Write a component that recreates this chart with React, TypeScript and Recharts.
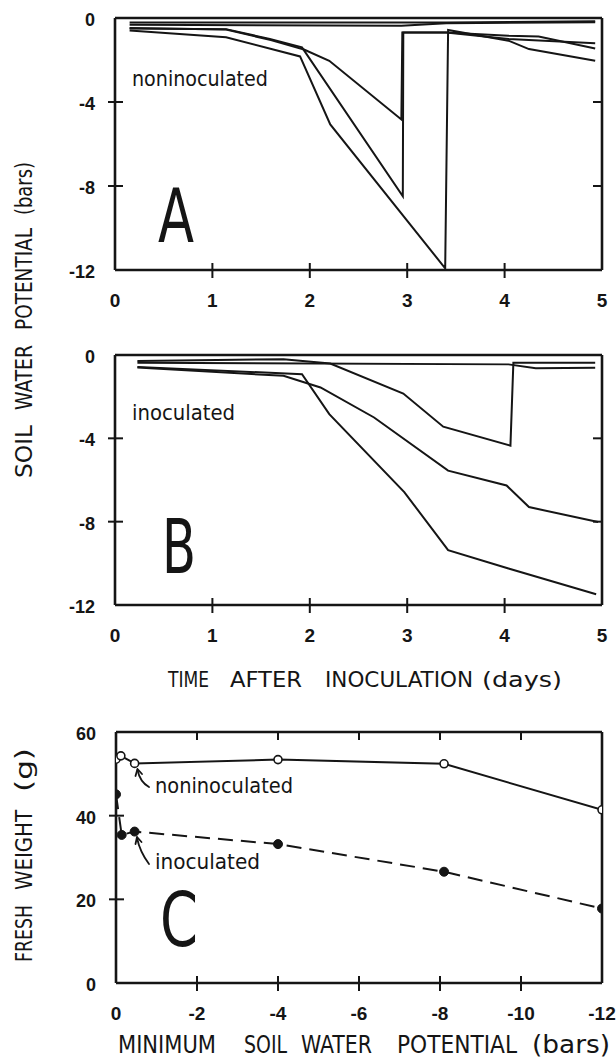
import React from "react";
import { LineChart, Line, XAxis, YAxis, ReferenceLine } from "recharts";

const INK = "#151515";
const SANS = "'Liberation Sans', Arial, sans-serif";
const NARROW = "'DejaVu Sans Condensed', 'Liberation Sans Narrow', 'Liberation Sans', sans-serif";

// tick labels
const DAY_TICKS = [0, 1, 2, 3, 4, 5];
const BAR_TICKS = [0, -4, -8, -12];
const POT_TICKS = [0, -2, -4, -6, -8, -10, -12];
const WEIGHT_TICKS = [0, 20, 40, 60];

// panel A, noninoculated plants: [day, bars]
const nonA1 = [[0.15, -0.6], [1.14, -0.92], [1.9, -1.83], [2.21, -5.07], [3.39, -11.92], [3.42, -0.57], [4.04, -1.08], [4.25, -1.48], [4.93, -2.04]];
const nonA2 = [[0.15, -0.5], [1.14, -0.53], [1.59, -1.0], [1.92, -1.4], [2.955, -8.49], [2.96, -0.69], [3.4, -0.69], [4.04, -0.84], [4.35, -0.88], [4.93, -1.45]];
const nonA3 = [[0.15, -0.48], [1.14, -0.55], [1.6, -1.05], [1.94, -1.5], [2.2, -2.04], [2.94, -4.83], [2.95, -0.69], [3.4, -0.69], [4.04, -1.0], [4.93, -1.2]];
const nonA4 = [[0.15, -0.22], [3.4, -0.22], [4.93, -0.16]];
const nonA5 = [[0.15, -0.32], [2.94, -0.37], [3.4, -0.25], [4.93, -0.2]];

// panel B, inoculated plants: [day, bars]
const inoB1 = [[0.23, -0.29], [1.73, -0.2], [2.21, -0.41], [2.96, -1.85], [3.37, -3.44], [4.06, -4.35], [4.09, -0.37], [4.93, -0.37]];
const inoB2 = [[0.23, -0.37], [4.04, -0.45], [4.32, -0.64], [4.93, -0.61]];
const inoB3 = [[0.23, -0.57], [1.92, -0.92], [2.2, -2.84], [2.97, -6.58], [3.42, -9.37], [4.04, -10.25], [4.94, -11.48]];
const inoB4 = [[0.23, -0.6], [1.73, -1.0], [2.11, -1.56], [2.66, -3.0], [3.42, -5.55], [4.02, -6.26], [4.25, -7.3], [4.96, -8.02]];

// panel C: minimum soil water potential (bars) vs fresh weight (g)
const NONINOC_POT = [0, -0.12, -0.46, -4, -8.1, -12];
const NONINOC_WT = [53.5, 54.3, 52.5, 53.4, 52.4, 41.4];
const INOC_POT = [0, -0.14, -0.46, -4, -8.1, -12];
const INOC_WT = [45.1, 35.4, 36.2, 33.2, 26.6, 17.8];

const toRows = (pts: number[][]) => pts.map(([d, v]) => ({ d, v }));
const zipRows = (xs: number[], ys: number[]) => xs.map((x, i) => ({ x, g: ys[i] }));

const W = 616;
const fmt = (v: number) => (v === 0 ? "0" : String(v));

function YTick(props: any) {
  const { x, y, payload, inner, rightX } = props;
  const v = payload.value;
  const mid = inner.includes(v);
  return (
    <g>
      {mid && <line x1={x - 7} x2={x + 8} y1={y} y2={y} stroke={INK} strokeWidth={2} />}
      {mid && rightX && <line x1={rightX - 9} x2={rightX} y1={y} y2={y} stroke={INK} strokeWidth={2} />}
      <text x={x - 20} y={y + 8} textAnchor="end" fontFamily={SANS} fontWeight={700} fontSize={18} fill={INK}>
        {fmt(v)}
      </text>
    </g>
  );
}

function XTick(props: any) {
  const { x, y, payload, inner, topY } = props;
  const v = payload.value;
  const mid = inner.includes(v);
  return (
    <g>
      {mid && <line x1={x} x2={x} y1={y - 7} y2={y + 8} stroke={INK} strokeWidth={2} />}
      {mid && topY != null && <line x1={x} x2={x} y1={topY} y2={topY + 8} stroke={INK} strokeWidth={2} />}
      <text x={x} y={y + 37} textAnchor="middle" fontFamily={SANS} fontWeight={700} fontSize={19} fill={INK}>
        {fmt(v)}
      </text>
    </g>
  );
}

// frame drawn through the chart's own scales
function frame(x0: number, x1: number, y0: number, y1: number) {
  const common = { stroke: INK, strokeWidth: 2.6, ifOverflow: "extendDomain" as const };
  return [
    <ReferenceLine key="fl" x={x0} {...common} />,
    <ReferenceLine key="fr" x={x1} {...common} />,
    <ReferenceLine key="fb" y={y0} {...common} />,
    <ReferenceLine key="ft" y={y1} {...common} />,
  ];
}

function SoilPanel({ lines, top, height, margin }: { lines: number[][][]; top: number; height: number; margin: any }) {
  return (
    <div style={{ position: "absolute", left: 0, top }}>
      <LineChart width={W} height={height} margin={margin}>
        <XAxis
          type="number"
          dataKey="d"
          domain={[0, 5]}
          ticks={DAY_TICKS}
          interval={0}
          allowDataOverflow
          height={40}
          tickSize={0}
          tickMargin={0}
          tickLine={false}
          axisLine={false}
          tick={<XTick inner={[1, 2, 3, 4]} />}
        />
        <YAxis
          type="number"
          domain={[-12, 0]}
          ticks={BAR_TICKS}
          interval={0}
          allowDataOverflow
          width={40}
          tickSize={0}
          tickMargin={0}
          tickLine={false}
          axisLine={false}
          tick={<YTick inner={[-4, -8]} rightX={W - margin.right} />}
        />
        {frame(0, 5, -12, 0)}
        {lines.map((pts, i) => (
          <Line
            key={i}
            data={toRows(pts)}
            dataKey="v"
            type="linear"
            stroke={INK}
            strokeWidth={2}
            dot={false}
            isAnimationActive={false}
          />
        ))}
      </LineChart>
    </div>
  );
}

function WeightPanel() {
  const margin = { top: 32, right: 14, left: 76, bottom: 40 };
  return (
    <div style={{ position: "absolute", left: 0, top: 700 }}>
      <LineChart width={W} height={363} margin={margin}>
        <XAxis
          type="number"
          dataKey="x"
          domain={[-12, 0]}
          reversed
          ticks={POT_TICKS}
          interval={0}
          allowDataOverflow
          height={40}
          tickSize={0}
          tickMargin={0}
          tickLine={false}
          axisLine={false}
          tick={<XTick inner={[-2, -4, -6, -8, -10]} topY={margin.top} />}
        />
        <YAxis
          type="number"
          domain={[0, 60]}
          ticks={WEIGHT_TICKS}
          interval={0}
          allowDataOverflow
          width={40}
          tickSize={0}
          tickMargin={0}
          tickLine={false}
          axisLine={false}
          tick={<YTick inner={[20, 40]} />}
        />
        {frame(0, -12, 0, 60)}
        <Line
          data={zipRows(INOC_POT, INOC_WT)}
          dataKey="g"
          type="linear"
          stroke={INK}
          strokeWidth={2}
          strokeDasharray="15 8"
          dot={{ r: 4.5, fill: INK, stroke: INK, strokeWidth: 1, strokeDasharray: "0" }}
          isAnimationActive={false}
        />
        <Line
          data={zipRows(NONINOC_POT, NONINOC_WT)}
          dataKey="g"
          type="linear"
          stroke={INK}
          strokeWidth={2}
          dot={{ r: 4, fill: "#fff", stroke: INK, strokeWidth: 1.6 }}
          isAnimationActive={false}
        />
      </LineChart>
    </div>
  );
}

function Word({ t, x0, x1, y, size }: { t: string; x0: number; x1: number; y: number; size: number }) {
  return (
    <text x={x0} y={y} fontSize={size} textLength={x1 - x0} lengthAdjust="spacingAndGlyphs" fontFamily={NARROW} fill={INK}>
      {t}
    </text>
  );
}

function Overlay() {
  return (
    <svg width={W} height={1063} style={{ position: "absolute", left: 0, top: 0, pointerEvents: "none" }}>
      {/* panel letters and labels */}
      <Word t="noninoculated" x0={132} x1={268} y={86} size={22} />
      <Word t="A" x0={158} x1={194} y={242} size={75} />
      <Word t="inoculated" x0={132} x1={235} y={420} size={22} />
      <Word t="B" x0={162} x1={196} y={573} size={75} />
      <Word t="C" x0={160} x1={198} y={946} size={75} />
      <Word t="noninoculated" x0={155} x1={293} y={793} size={22} />
      <Word t="inoculated" x0={155} x1={260} y={869} size={22} />

      {/* arrows */}
      <g stroke={INK} strokeWidth={1.8} fill="none" strokeLinecap="round">
        <path d="M149 787 Q140 782 137.5 770" />
        <path d="M137.5 769 L135.5 776 M137.5 769 L142 774" />
        <path d="M149 864 Q140 852 137 838" />
        <path d="M137 837 L135.5 844 M137 837 L141.5 842" />
      </g>

      {/* x titles */}
      <Word t="TIME" x0={168} x1={209} y={687} size={21} />
      <Word t="AFTER" x0={230} x1={302} y={687} size={21} />
      <Word t="INOCULATION" x0={325} x1={473} y={687} size={21} />
      <Word t="(days)" x0={482} x1={562} y={687} size={21} />

      <Word t="MINIMUM" x0={118} x1={216} y={1053} size={24} />
      <Word t="SOIL" x0={244} x1={287} y={1053} size={24} />
      <Word t="WATER" x0={301} x1={372} y={1053} size={24} />
      <Word t="POTENTIAL" x0={397} x1={517} y={1053} size={24} />
      <Word t="(bars)" x0={532} x1={610} y={1053} size={24} />

      {/* y titles, rotated; x along reading direction = -pageY */}
      <g transform="rotate(-90)">
        <Word t="SOIL" x0={-478} x1={-425} y={32} size={23} />
        <Word t="WATER" x0={-410} x1={-345} y={32} size={23} />
        <Word t="POTENTIAL" x0={-330} x1={-228} y={32} size={23} />
        <Word t="(bars)" x0={-215} x1={-162} y={32} size={23} />

        <Word t="FRESH" x0={-962} x1={-905} y={32} size={23} />
        <Word t="WEIGHT" x0={-890} x1={-810} y={32} size={23} />
        <Word t="(g)" x0={-792} x1={-748} y={32} size={23} />
      </g>
    </svg>
  );
}

export default function App() {
  return (
    <div style={{ position: "absolute", left: 0, top: 0, width: W, height: 1063, background: "#fff" }}>
      <SoilPanel
        lines={[nonA1, nonA2, nonA3, nonA4, nonA5]}
        top={0}
        height={330}
        margin={{ top: 18, right: 14, left: 75, bottom: 20 }}
      />
      <SoilPanel
        lines={[inoB1, inoB2, inoB3, inoB4]}
        top={330}
        height={330}
        margin={{ top: 25, right: 14, left: 75, bottom: 15 }}
      />
      <WeightPanel />
      <Overlay />
    </div>
  );
}
